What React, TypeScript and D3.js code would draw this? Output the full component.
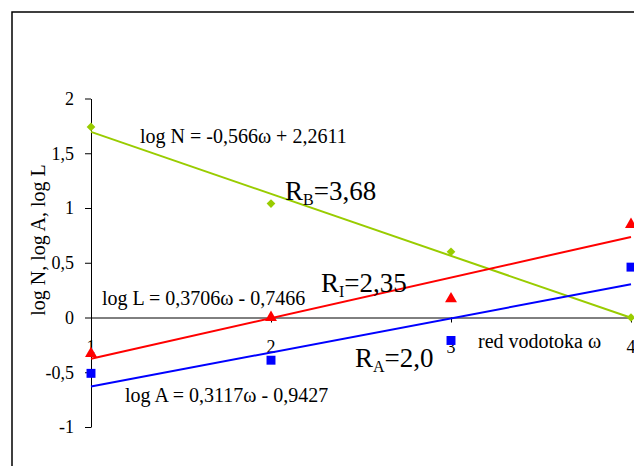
import React, { useRef, useEffect } from "react";
import * as d3 from "d3";

// red vodotoka ω (1-4)
const orders = [1, 2, 3, 4];

// izmjerene vrijednosti po redovima
const logN = [1.74, 1.04, 0.6, 0.0];
const logL = [-0.33, 0.0, 0.17, 0.85];
const logA = [-0.51, -0.39, -0.21, 0.46];

// koeficijenti pravaca [nagib, odsječak]
const trendN = [-0.566, 2.2611];
const trendL = [0.3706, -0.7466];
const trendA = [0.3117, -0.9427];

const yTicks = [-1, -0.5, 0, 0.5, 1, 1.5, 2];

const fmt = (v: number) => String(v).replace(".", ",");

const App = () => {
  const ref = useRef<SVGSVGElement>(null);

  useEffect(() => {
    const width = 634;
    const height = 466;
    const svg = d3.select(ref.current);
    svg.selectAll("*").remove();

    const x = d3.scaleLinear().domain([1, 4]).range([91, 631]);
    const y = d3.scaleLinear().domain([-1, 2]).range([427, 98.5]);
    const font = "'Liberation Serif', 'Times New Roman', serif";

    // okvir
    svg
      .append("rect")
      .attr("x", 12)
      .attr("y", 12)
      .attr("width", width + 20)
      .attr("height", height + 20)
      .attr("fill", "#fff")
      .attr("stroke", "#000")
      .attr("stroke-width", 1.5);

    // y os
    const yAxis = svg
      .append("g")
      .attr("transform", `translate(${x(1)},0)`)
      .call(
        d3
          .axisLeft(y)
          .tickValues(yTicks)
          .tickSize(6)
          .tickSizeOuter(0)
          .tickPadding(11)
          .tickFormat((d) => fmt(d as number))
      );
    yAxis.select(".domain").attr("stroke", "#000");
    yAxis
      .selectAll("text")
      .attr("font-family", font)
      .attr("font-size", 18)
      .attr("fill", "#000");

    // x os na y=0
    const xAxis = svg
      .append("g")
      .attr("transform", `translate(0,${y(0)})`)
      .call(d3.axisBottom(x).tickValues(orders).tickSize(5).tickSizeOuter(0).tickFormat(() => ""));
    xAxis.select(".domain").attr("stroke", "#000");

    svg
      .append("g")
      .selectAll("text")
      .data(orders)
      .join("text")
      .attr("x", (d) => x(d))
      .attr("y", y(0) + 35)
      .attr("text-anchor", "middle")
      .attr("font-family", font)
      .attr("font-size", 18)
      .text((d) => d);

    svg
      .append("text")
      .attr("x", 478)
      .attr("y", y(0) + 30)
      .attr("font-family", font)
      .attr("font-size", 20)
      .text("red vodotoka ω");

    svg
      .append("text")
      .attr("transform", `translate(45,${240}) rotate(-90)`)
      .attr("text-anchor", "middle")
      .attr("font-family", font)
      .attr("font-size", 20)
      .text("log N, log A, log L");

    const series = [
      { vals: logN, trend: trendN, color: "#99cc00", shape: "diamond" },
      { vals: logA, trend: trendA, color: "#0000ff", shape: "square" },
      { vals: logL, trend: trendL, color: "#ff0000", shape: "triangle" },
    ];

    series.forEach((s) => {
      const ends = [orders[0], orders[orders.length - 1]];
      svg
        .append("path")
        .attr("d", d3.line<number>().x((d) => x(d)).y((d) => y(s.trend[0] * d + s.trend[1]))(ends))
        .attr("fill", "none")
        .attr("stroke", s.color)
        .attr("stroke-width", 2);
    });

    series.forEach((s) => {
      let sym;
      if (s.shape === "diamond") sym = d3.symbol(d3.symbolSquare, 38);
      else if (s.shape === "square") sym = d3.symbol(d3.symbolSquare, 80);
      else sym = d3.symbol(d3.symbolTriangle, 62);
      svg
        .append("g")
        .selectAll("path")
        .data(s.vals)
        .join("path")
        .attr("d", sym as any)
        .attr(
          "transform",
          (d, i) =>
            `translate(${x(orders[i])},${y(d)})` + (s.shape === "diamond" ? " rotate(45)" : "")
        )
        .attr("fill", s.color);
    });

    // jednadžbe
    const eq = [
      { t: "log N = -0,566ω + 2,2611", x: 140, y: 143 },
      { t: "log L = 0,3706ω - 0,7466", x: 102, y: 305 },
      { t: "log A = 0,3117ω - 0,9427", x: 125, y: 402 },
    ];
    svg
      .append("g")
      .selectAll("text")
      .data(eq)
      .join("text")
      .attr("x", (d) => d.x)
      .attr("y", (d) => d.y)
      .attr("font-family", font)
      .attr("font-size", 20)
      .attr("xml:space", "preserve")
      .text((d) => d.t);

    const rs = [
      { sub: "B", v: "=3,68", x: 285, y: 200 },
      { sub: "I", v: "=2,35", x: 321, y: 292 },
      { sub: "A", v: "=2,0", x: 355, y: 367 },
    ];
    rs.forEach((r) => {
      const t = svg
        .append("text")
        .attr("x", r.x)
        .attr("y", r.y)
        .attr("font-family", font)
        .attr("font-size", 27);
      t.append("tspan").text("R");
      t.append("tspan").attr("font-size", 16).attr("dy", 5).text(r.sub);
      t.append("tspan").attr("dy", -5).text(r.v);
    });
  }, []);

  return (
    <div style={{ position: "fixed", left: 0, top: 0 }}>
      <svg ref={ref} width={634} height={466} style={{ display: "block" }} />
    </div>
  );
};

export default App;
